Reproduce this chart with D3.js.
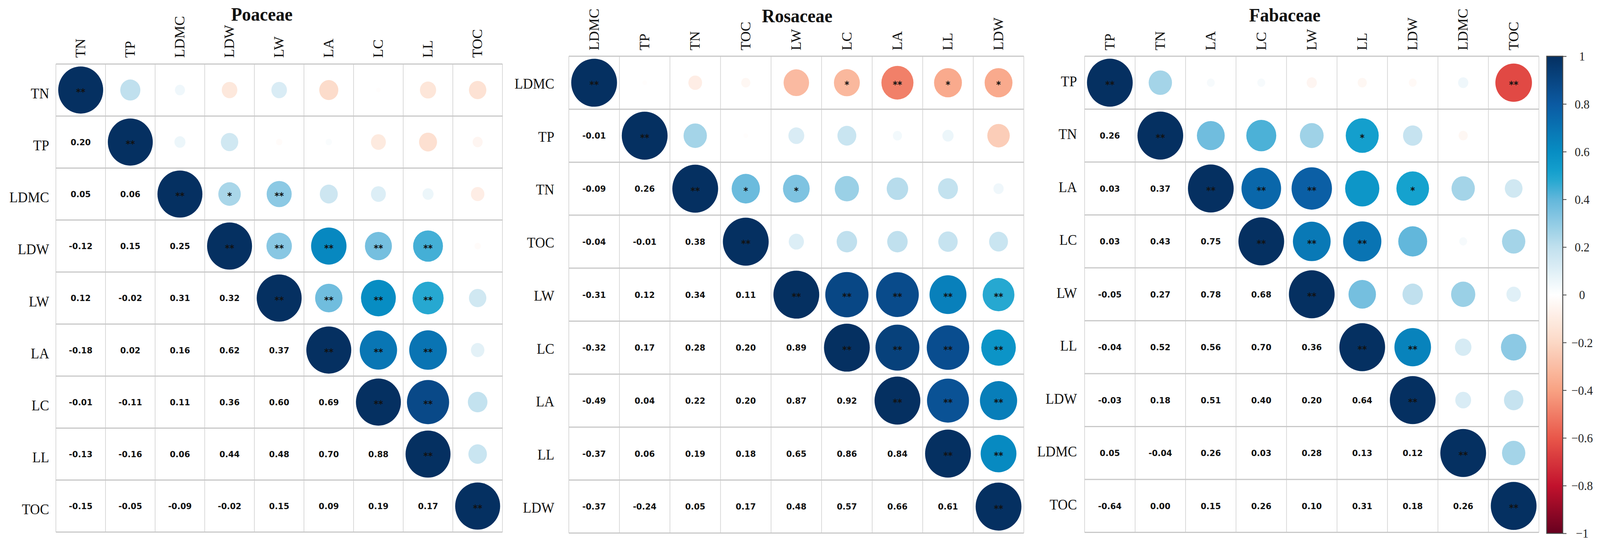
<!DOCTYPE html>
<html><head><meta charset="utf-8">
<script src="https://cdn.jsdelivr.net/npm/d3@7/dist/d3.min.js"></script>
<style>html,body{margin:0;padding:0;background:#fff;overflow:hidden;width:100%;height:100%}svg{display:block;width:100vw;height:100vh}</style>
</head><body><svg id="chart"></svg>
<script>
// ---------- DATA ----------
const poaceaeVars = ["TN","TP","LDMC","LDW","LW","LA","LC","LL","TOC"];
const poaceaeLower = [
  [],
  [0.20],
  [0.05, 0.06],
  [-0.12, 0.15, 0.25],
  [0.12, -0.02, 0.31, 0.32],
  [-0.18, 0.02, 0.16, 0.62, 0.37],
  [-0.01, -0.11, 0.11, 0.36, 0.60, 0.69],
  [-0.13, -0.16, 0.06, 0.44, 0.48, 0.70, 0.88],
  [-0.15, -0.05, -0.09, -0.02, 0.15, 0.09, 0.19, 0.17]
];
const poaceaeSig = [
  ["","","","","","","",""],
  ["","","","","","",""],
  ["*","**","","","",""],
  ["**","**","**","**",""],
  ["**","**","**",""],
  ["**","**",""],
  ["**",""],
  [""],
  []
];

const rosaceaeVars = ["LDMC","TP","TN","TOC","LW","LC","LA","LL","LDW"];
const rosaceaeLower = [
  [],
  [-0.01],
  [-0.09, 0.26],
  [-0.04, -0.01, 0.38],
  [-0.31, 0.12, 0.34, 0.11],
  [-0.32, 0.17, 0.28, 0.20, 0.89],
  [-0.49, 0.04, 0.22, 0.20, 0.87, 0.92],
  [-0.37, 0.06, 0.19, 0.18, 0.65, 0.86, 0.84],
  [-0.37, -0.24, 0.05, 0.17, 0.48, 0.57, 0.66, 0.61]
];
const rosaceaeSig = [
  ["","","","","*","**","*","*"],
  ["","","","","","",""],
  ["*","*","","","",""],
  ["","","","",""],
  ["**","**","**","**"],
  ["**","**","**"],
  ["**","**"],
  ["**"],
  []
];

const fabaceaeVars = ["TP","TN","LA","LC","LW","LL","LDW","LDMC","TOC"];
const fabaceaeLower = [
  [],
  [0.26],
  [0.03, 0.37],
  [0.03, 0.43, 0.75],
  [-0.05, 0.27, 0.78, 0.68],
  [-0.04, 0.52, 0.56, 0.70, 0.36],
  [-0.03, 0.18, 0.51, 0.40, 0.20, 0.64],
  [0.05, -0.04, 0.26, 0.03, 0.28, 0.13, 0.12],
  [-0.64, 0.00, 0.15, 0.26, 0.10, 0.31, 0.18, 0.26]
];
const fabaceaeSig = [
  ["","","","","","","","**"],
  ["","","","*","","",""],
  ["**","**","","*","",""],
  ["**","**","","",""],
  ["","","",""],
  ["**","",""],
  ["",""],
  [""],
  []
];

const colorbarTicks = [-1, -0.8, -0.6, -0.4, -0.2, 0, 0.2, 0.4, 0.6, 0.8, 1];

// palette (value -> colour)
const paletteStops = [-1, -0.8, -0.6, -0.4, -0.2, 0, 0.2, 0.4, 0.5, 0.6, 0.8, 1];
const paletteColors = ["#67001f","#c2122d","#e9574a","#f8a283","#fcd8c5","#ffffff",
                       "#c0e0ee","#62b7db","#17a4cf","#078dc3","#0b5aa2","#053061"];

// ---------- LAYOUT ----------
const W = 4295, H = 1401;
const panels = [
  {title:"Poaceae",  vars:poaceaeVars,  lower:poaceaeLower,  sig:poaceaeSig,
   x0:150,    y0:164, cell:133.2, titleX:703,  titleY:53, rowLabelX:132,  rowDy:9,  colLabelY:148},
  {title:"Rosaceae", vars:rosaceaeVars, lower:rosaceaeLower, sig:rosaceaeSig,
   x0:1527,   y0:144, cell:135.7, titleX:2140, titleY:57, rowLabelX:1488, rowDy:3,  colLabelY:129},
  {title:"Fabaceae", vars:fabaceaeVars, lower:fabaceaeLower, sig:fabaceaeSig,
   x0:2911.5, y0:144, cell:135.5, titleX:3449, titleY:55, rowLabelX:2891, rowDy:-3, colLabelY:129}
];

const serif = "'Liberation Serif','Times New Roman',Times,serif";
const sans = "'DejaVu Sans',Verdana,sans-serif";

const svg = d3.select("#chart")
  .attr("viewBox", `0 0 ${W} ${H}`).attr("preserveAspectRatio", "none");
svg.append("rect").attr("width", W).attr("height", H).attr("fill", "#fff");

const color = d3.scaleLinear().domain(paletteStops).range(paletteColors).clamp(true);

function fullMatrix(vars, lower) {
  const n = vars.length;
  const m = [];
  for (let i = 0; i < n; i++) {
    m.push([]);
    for (let j = 0; j < n; j++) {
      if (i === j) m[i].push(1);
      else if (j < i) m[i].push(lower[i][j]);
      else m[i].push(lower[j][i]);
    }
  }
  return m;
}

panels.forEach(p => {
  const n = p.vars.length;
  const size = n * p.cell;
  const x = d3.scaleBand().domain(p.vars).range([p.x0, p.x0 + size]);
  const y = d3.scaleBand().domain(p.vars).range([p.y0, p.y0 + size]);
  const r = d3.scaleSqrt().domain([0, 1]).range([0, 0.453 * p.cell]);
  const M = fullMatrix(p.vars, p.lower);
  const g = svg.append("g");

  const cells = [];
  p.vars.forEach((rv, i) => p.vars.forEach((cv, j) => {
    const sig = j > i ? (p.sig[i][j - i - 1] || "") : (i === j ? "**" : "");
    cells.push({i, j, rv, cv, v: M[i][j], sig});
  }));

  g.selectAll("circle.c").data(cells.filter(d => d.j >= d.i)).join("circle")
    .attr("cx", d => x(d.cv) + x.bandwidth() / 2)
    .attr("cy", d => y(d.rv) + y.bandwidth() / 2)
    .attr("r", d => r(Math.abs(d.v)))
    .attr("fill", d => color(d.v));

  g.selectAll("text.sig").data(cells.filter(d => d.j >= d.i && d.sig)).join("text")
    .attr("x", d => x(d.cv) + x.bandwidth() / 2)
    .attr("y", d => y(d.rv) + y.bandwidth() / 2 + 0.56 * 24)
    .attr("text-anchor", "middle")
    .attr("font-family", sans).attr("font-weight", "bold").attr("font-size", 24)
    .attr("fill", "#111")
    .text(d => d.sig);

  g.selectAll("text.num").data(cells.filter(d => d.j < d.i)).join("text")
    .attr("x", d => x(d.cv) + x.bandwidth() / 2)
    .attr("y", d => y(d.rv) + y.bandwidth() / 2 + 0.36 * 22)
    .attr("text-anchor", "middle")
    .attr("font-family", sans).attr("font-weight", "bold").attr("font-size", 22)
    .attr("fill", "#111")
    .text(d => d.v.toFixed(2));

  const edges = d3.range(n + 1).map(k => p.x0 + k * p.cell);
  const hedges = d3.range(n + 1).map(k => p.y0 + k * p.cell);
  g.selectAll("line.v").data(edges).join("line")
    .attr("x1", d => d).attr("x2", d => d)
    .attr("y1", p.y0).attr("y2", p.y0 + size)
    .attr("stroke", "#cfcfcf").attr("stroke-width", 1.6);
  g.selectAll("line.h").data(hedges).join("line")
    .attr("x1", p.x0).attr("x2", p.x0 + size)
    .attr("y1", d => d).attr("y2", d => d)
    .attr("stroke", "#c8c8c8").attr("stroke-width", 3);

  g.selectAll("text.row").data(p.vars).join("text")
    .attr("x", p.rowLabelX)
    .attr("y", d => y(d) + y.bandwidth() / 2 + 0.33 * 37 + p.rowDy)
    .attr("text-anchor", "end")
    .attr("font-family", serif).attr("font-size", 37).attr("fill", "#111")
    .text(d => d);

  g.selectAll("text.col").data(p.vars).join("text")
    .attr("transform", d => `translate(${x(d) + x.bandwidth() / 2 + 0.33 * 37},${p.colLabelY}) rotate(-90)`)
    .attr("text-anchor", "start")
    .attr("font-family", serif).attr("font-size", 37).attr("fill", "#111")
    .text(d => d);

  g.append("text")
    .attr("x", p.titleX).attr("y", p.titleY)
    .attr("text-anchor", "middle")
    .attr("font-family", serif).attr("font-weight", "bold").attr("font-size", 48)
    .attr("fill", "#111")
    .text(p.title);
});

// ---------- COLOUR BAR ----------
const cbX = 4152, cbW = 43, cbTop = 144, cbBot = 1366;
const cbScale = d3.scaleLinear().domain([-1, 1]).range([cbBot, cbTop]);
const defs = svg.append("defs");
const grad = defs.append("linearGradient").attr("id", "cbgrad")
  .attr("x1", 0).attr("x2", 0).attr("y1", 1).attr("y2", 0);
d3.range(0, 1.0001, 0.02).forEach(t => {
  const v = -1 + 2 * t;
  grad.append("stop").attr("offset", t).attr("stop-color", color(v));
});
svg.append("rect").attr("x", cbX).attr("y", cbTop).attr("width", cbW).attr("height", cbBot - cbTop)
  .attr("fill", "url(#cbgrad)").attr("stroke", "#454545").attr("stroke-width", 2.5);

const fmt = v => {
  const s = Math.abs(v) < 1e-9 ? "0" : String(+Math.abs(v).toFixed(1));
  return (v < -1e-9 ? "\u2212" : "") + s;
};
const axis = d3.axisRight(cbScale).tickValues(colorbarTicks).tickSize(10).tickFormat(fmt);
const ax = svg.append("g").attr("transform", `translate(${cbX + cbW},0)`).call(axis);
ax.select(".domain").remove();
ax.selectAll(".tick line").attr("stroke", "#454545").attr("stroke-width", 2);
ax.selectAll(".tick text")
  .attr("x", 52).attr("dy", null).attr("y", 0.34 * 32)
  .attr("text-anchor", "middle")
  .attr("font-family", serif).attr("font-size", 32).attr("fill", "#222");
</script>
</body></html>
